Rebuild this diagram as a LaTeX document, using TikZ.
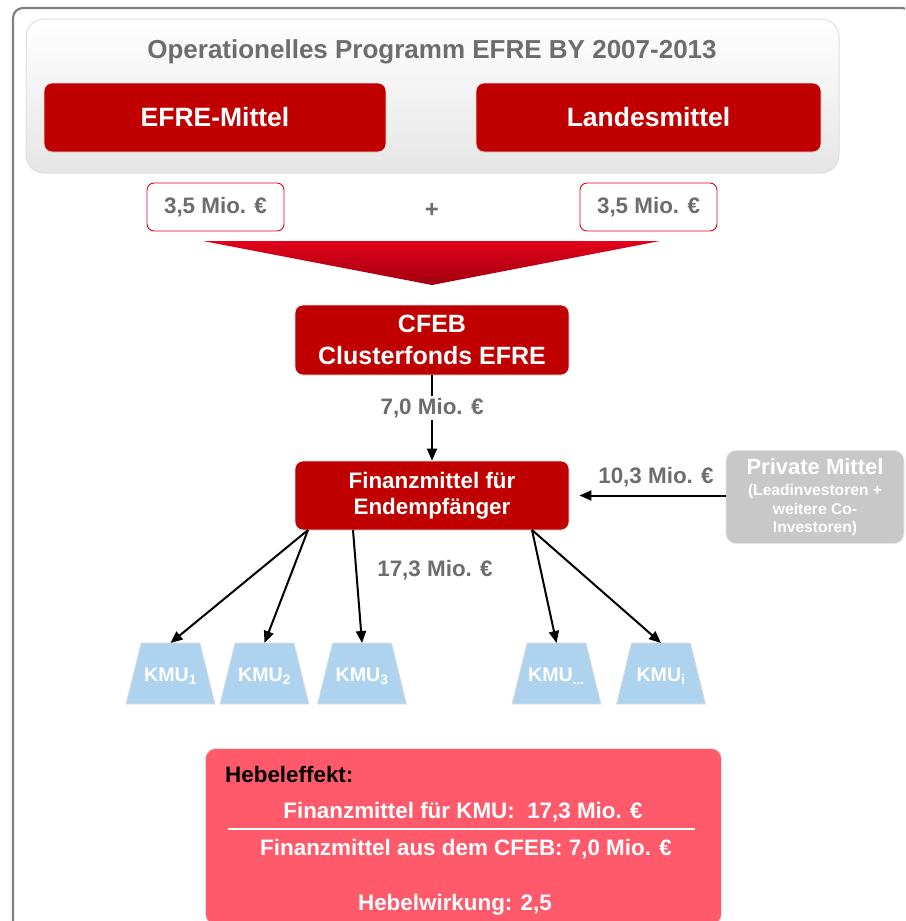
\documentclass[tikz,border=0pt]{standalone}
\usepackage{fontspec}
\setmainfont{Liberation Sans}
\usetikzlibrary{arrows.meta}
\definecolor{cred}{HTML}{C00000}
\definecolor{ctxt}{HTML}{6D6D6D}
\definecolor{cpink}{HTML}{FF5A6B}
\definecolor{cblue}{HTML}{AED3EF}
\definecolor{cpriv}{HTML}{C8C8C8}
\definecolor{cframe}{HTML}{808080}
\definecolor{ctriA}{HTML}{E2001A}
\definecolor{ctriB}{HTML}{A0000F}
\newcommand{\myfs}[2]{\fontsize{#1}{#2}\selectfont\bfseries}
\newcommand{\kmubox}[3]{%
  \filldraw[kmushape] (#2-44.5,704) -- (#2-29.5,643) -- (#2+29.5,643) -- (#2+44.5,704) -- cycle;
  \node[kmutext] (#1) at (#2,676) {#3};
  \coordinate (#1top) at (#2,643);}
\begin{document}
\begin{tikzpicture}[x=1pt,y=-1pt,
  redbox/.style={fill=cred, draw=black!10, line width=0.8pt, rounded corners=8pt, text=white, inner sep=0pt, align=center},
  valbox/.style={fill=white, draw=ctriA, line width=0.9pt, rounded corners=7pt, text=ctxt, inner sep=0pt,
    minimum width=137pt, minimum height=48pt, font=\myfs{22.4}{26}},
  gtext/.style={text=ctxt, inner sep=1pt},
  lbl/.style={text=ctxt, inner sep=2pt, font=\myfs{22.4}{26}},
  kmushape/.style={fill=cblue, draw=black!13, line width=0.8pt},
  kmutext/.style={text=white, inner sep=0pt, font=\myfs{19.6}{22}},
  conn/.style={line width=2pt, -{Triangle[length=12pt,width=10pt]}},
  wtext/.style={text=white, inner sep=0pt, font=\myfs{22.4}{26}}
]
\useasboundingbox (0,0) rectangle (905,921);
\clip (0,0) rectangle (905,921);

% outer frame
\draw[cframe, line width=2.2pt, rounded corners=10pt] (13,8) rectangle (912,945);

% top panel
\node[top color=white, bottom color=black!10, draw=black!13, line width=1pt, rounded corners=18pt,
  minimum width=813pt, minimum height=154pt, inner sep=0pt] (panel) at (432.5,96) {};
\node[gtext, font=\myfs{26}{30}] (title) at (432,52) {Operationelles Programm EFRE BY 2007-2013};
\node[redbox, minimum width=342pt, minimum height=69pt, font=\myfs{26.5}{30}] (efre) at (215,117.5) {EFRE-Mittel};
\node[redbox, minimum width=345pt, minimum height=69pt, font=\myfs{26.5}{30}] (land) at (648.5,117.5) {Landesmittel};

\node[valbox] (v1) at (215.5,207) {3,5 Mio. €};
\node[valbox] (v2) at (648.5,207) {3,5 Mio. €};
\node[gtext, font=\myfs{24}{26}] (plus) at (432,210) {+};

% funnel
\shade[top color=ctriA, bottom color=ctriB] (203,241) -- (660,241) -- (432,285) -- cycle;

\node[redbox, minimum width=274pt, minimum height=70pt, font=\myfs{25}{32}] (cfeb) at (432,340) {CFEB\\Clusterfonds EFRE};
\node[redbox, minimum width=274pt, minimum height=69pt, font=\myfs{22.4}{26}] (fin) at (432,495.5) {Finanzmittel für\\Endempfänger};

\node[fill=cpriv, draw=black!10, line width=0.8pt, rounded corners=10pt, minimum width=178pt, minimum height=93pt,
  inner sep=0pt, text=white, align=center, font=\myfs{15.6}{18.5}] (priv) at (815,497)
  {\myfs{22}{23}Private Mittel\\[3pt]
   (Leadinvestoren +\\
   weitere Co-\\
   Investoren)};

\draw[conn] (cfeb) -- node[lbl, pos=0.38, fill=white] (l70) {7,0 Mio. €} (fin);
\draw[conn, shorten >=10pt] (priv.west |- fin.east) -- (fin.east);
\node[lbl] (l103) at (656,477) {10,3 Mio. €};
\node[lbl] (l173) at (435,570) {17,3 Mio. €};

% KMU
\kmubox{k1}{170.5}{KMU\textsubscript{1}}
\kmubox{k2}{264.5}{KMU\textsubscript{2}}
\kmubox{k3}{362}{KMU\textsubscript{3}}
\kmubox{k4}{556.5}{KMU\textsubscript{...}}
\kmubox{k5}{661}{KMU\textsubscript{i}}

\coordinate (c1) at (308,530);
\coordinate (c3) at (353,530);
\coordinate (c4) at (532,530);
\draw[conn] (c1) -- (k1top);
\draw[conn] (c1) -- (k2top);
\draw[conn] (c3) -- (k3top);
\draw[conn] (c4) -- (k4top);
\draw[conn] (c4) -- (k5top);

% Hebel box
\node[fill=cpink, draw=black!12, line width=0.8pt, rounded corners=10pt, minimum width=516pt, minimum height=176pt,
  inner sep=0pt] (heb) at (463.5,836.5) {};
\node[wtext, text=black, anchor=west] (hh) at (225,774) {Hebeleffekt:};
\node[wtext] (h1) at (463,812) {Finanzmittel für KMU:\ \ 17,3 Mio. €};
\draw[white, line width=2.5pt] (228,829) -- (695,829);
\node[wtext] (h2) at (466,849) {Finanzmittel aus dem CFEB: 7,0 Mio. €};
\node[wtext] (h3) at (455,905) {Hebelwirkung: 2,5};
\end{tikzpicture}
\end{document}
